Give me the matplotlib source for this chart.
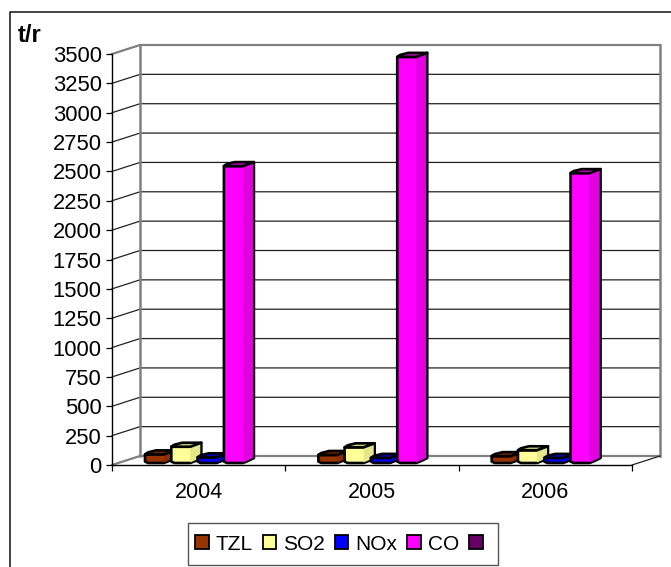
import matplotlib
matplotlib.use("Agg")
import matplotlib.pyplot as plt
import matplotlib.patches as mpatches

plt.rcParams['font.family'] = ['Liberation Sans', 'DejaVu Sans']

years = ["2004", "2005", "2006"]
series_names = ["TZL", "SO2", "NOx", "CO", ""]
tzl = [65, 60, 50]
so2 = [130, 125, 100]
nox = [40, 35, 35]
co = [2520, 3450, 2460]
y_ticks = list(range(0, 3501, 250))

colors = ["#993300", "#FFFF99", "#0000FF", "#FF00FF", "#660066"]
side_colors = ["#8A2E00", "#E6E68A", "#0000E0", "#E000E0"]
top_colors = ["#7A2900", "#CCCC7A", "#0000CC", "#CC00CC"]

W, H = 671, 567
fig = plt.figure(figsize=(W / 100, H / 100), dpi=100)
fig.patch.set_facecolor("white")

# front plane of the fake 3D box, in pixels
LEFT, RIGHT, BOTTOM, TOP = 112, 632, 465, 54
ax = fig.add_axes([LEFT / W, 1 - BOTTOM / H, (RIGHT - LEFT) / W, (BOTTOM - TOP) / H])
ax.set_xlim(0, 3)
ax.set_ylim(0, 3500)
ax.patch.set_visible(False)

px_x = 3 / (RIGHT - LEFT)
px_y = 3500 / (BOTTOM - TOP)


def pts(x, v, offsets):
    # x, v in data units, offsets in pixels (y up)
    return [(x + dx * px_x, v + dy * px_y) for dx, dy in offsets]


DX, DY = 28, 9
# walls and gridlines
for t in y_ticks:
    is_edge = t == 0 or t == 3500
    ax.plot([0, DX * px_x, 3 + DX * px_x],
            [t, t + DY * px_y, t + DY * px_y],
            color="#808080" if is_edge else "#222222",
            lw=1.6 if is_edge else 0.9, clip_on=False, zorder=1,
            solid_joinstyle="miter")
ax.plot([DX * px_x, DX * px_x], [DY * px_y, 3500 + DY * px_y], color="#808080", lw=1.8, clip_on=False, zorder=1)
ax.plot([3 + DX * px_x, 3 + DX * px_x], [DY * px_y, 3500 + DY * px_y], color="#808080", lw=1.8, clip_on=False, zorder=1)
ax.plot([3, 3 + DX * px_x], [0, DY * px_y], color="#222222", lw=0.9, clip_on=False, zorder=1)

# bars: they stand a little behind the front edge of the floor
RAISE = 3
START = 33
STEP = 26.3
for s, values in enumerate([tzl, so2, nox, co]):
    for i, v in enumerate(values):
        x = i + (START + s * STEP) * px_x
        ol = dict(edgecolor="black", lw=1.9, clip_on=False, zorder=3 + s, joinstyle="round")
        low = -v / px_y
        # body
        ax.add_patch(mpatches.Polygon(
            pts(x, v, [(0, RAISE), (19, RAISE), (30, RAISE + 4), (30, low + 7),
                       (24, low + 4), (19, low + 2), (3, low + 2), (0, low + 3.5)]),
            closed=True, facecolor=colors[s], **ol))
        # darker right part of the cylinder
        ax.add_patch(mpatches.Polygon(
            pts(x, v, [(19, RAISE), (29, RAISE + 3.5), (29, low + 7), (19, low + 2.5)]),
            closed=True, facecolor=side_colors[s], edgecolor="none", clip_on=False, zorder=3 + s))
        # top
        ax.add_patch(mpatches.Polygon(
            pts(x, v, [(0, RAISE), (3, RAISE + 2), (11, RAISE + 4), (30, RAISE + 4), (19, RAISE)]),
            closed=True, facecolor=top_colors[s], **ol))

for name in ["top", "right"]:
    ax.spines[name].set_visible(False)
for name in ["left", "bottom"]:
    ax.spines[name].set_linewidth(1.0)
    ax.spines[name].set_color("black")
    ax.spines[name].set_zorder(2)

ax.set_yticks(y_ticks)
ax.set_xticks([0, 1, 2, 3])
ax.set_xticklabels([])
ax.set_xticks([0.5, 1.5, 2.5], minor=True)
ax.set_xticklabels(years, minor=True)
ax.tick_params(axis="y", length=4.3, width=0.9, pad=3, labelsize=15.8)
ax.tick_params(axis="x", which="major", length=4.3, width=0.9)
ax.tick_params(axis="x", which="minor", length=0, pad=12, labelsize=15.5)

# outer chart frame
fig.add_artist(plt.Line2D([9.5 / W, 9.5 / W, 1], [0, 1 - 11.5 / H, 1 - 11.5 / H], color="#111111", lw=1.1))

fig.text(18 / W, 1 - 35 / H, "t/r", fontsize=17, fontweight="bold", ha="left", va="center")

# legend box is drawn apart, the legend itself only holds the entries
fig.add_artist(mpatches.Rectangle((187.5 / W, 1 - 565 / H), 310.5 / W, 42 / H, transform=fig.transFigure,
                                  facecolor="white", edgecolor="#555555", lw=1.0))
handles = [mpatches.Patch(facecolor=c, edgecolor="black", lw=1.3) for c in colors]
leg = fig.legend(handles, series_names, ncol=5, loc="center left", bbox_to_anchor=(195 / W, 1 - 544 / H),
                 fontsize=15, frameon=False,
                 handlelength=0.66, handleheight=0.66, handletextpad=0.33, columnspacing=0.47,
                 borderpad=0, borderaxespad=0)

fig.savefig("out.png", dpi=100)
